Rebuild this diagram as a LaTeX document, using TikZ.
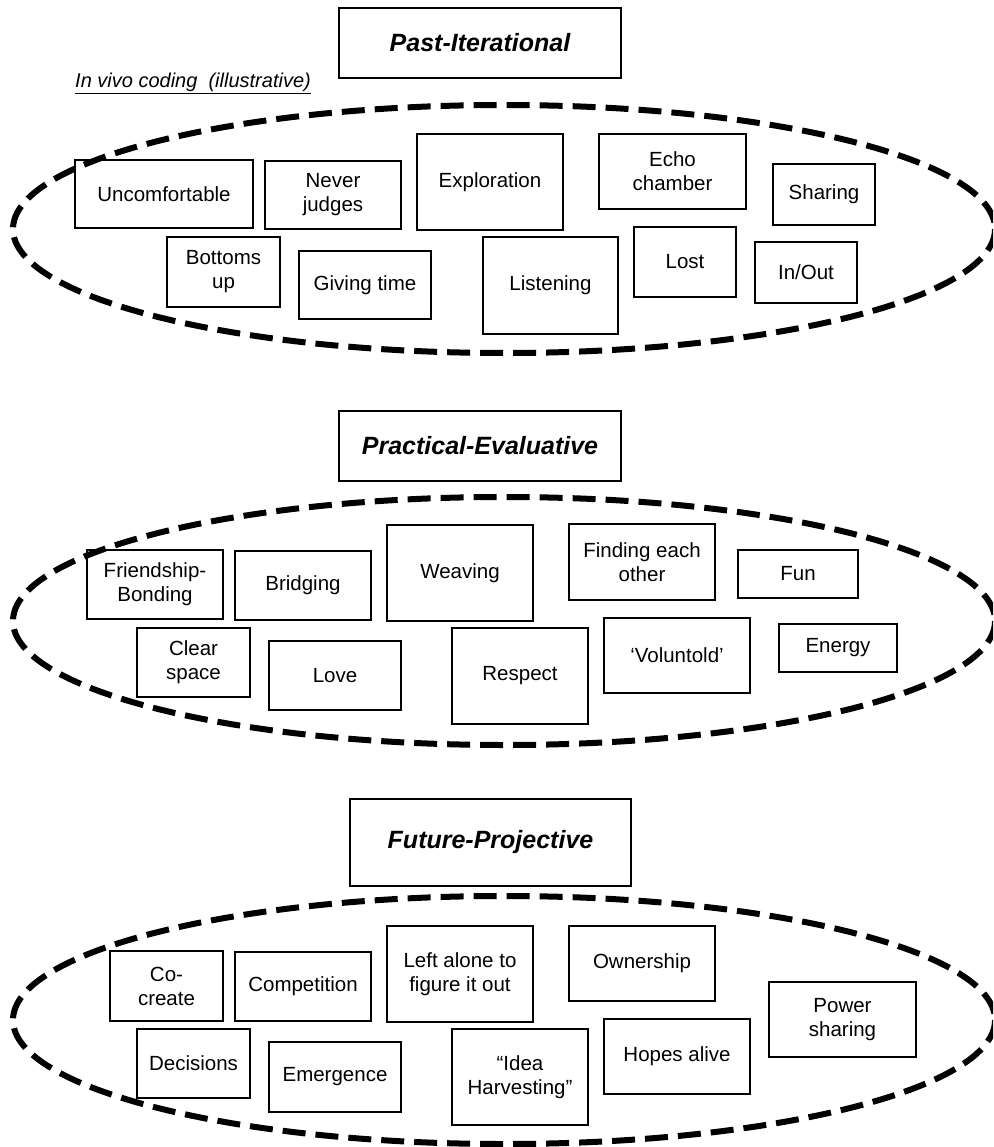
\documentclass[tikz,border=0pt]{standalone}
\usepackage{fontspec}
\setmainfont{Liberation Sans}
\begin{document}
\begin{tikzpicture}[x=1pt,y=-1pt,
  tagbox/.style 2 args={draw, line width=1.6pt, inner sep=0pt, align=center,
    minimum width=#1, minimum height=#2,
    font=\fontsize{20.5}{24}\selectfont},
  headbox/.style 2 args={draw, line width=1.8pt, inner sep=0pt,
    minimum width=#1, minimum height=#2,
    font=\fontsize{25}{28}\selectfont\bfseries\itshape},
  cluster/.style={draw, line width=6pt, dash pattern=on 23pt off 10pt}]
\useasboundingbox (0,0) rectangle (993,1147);
\clip (0,0) rectangle (993,1147);

% ---- Past-Iterational ----
\node[headbox={282}{70}] (pastT) at (480,43) {Past-Iterational};
\node[anchor=base west, inner sep=0pt, font=\fontsize{20}{22}\selectfont\itshape] (vivo) at (75,88)
  {\underline{In vivo coding\ \ (illustrative)}};

\node[tagbox={178}{68}] (unc)  at (164,194)     {Uncomfortable};
\node[tagbox={136}{68}] (nev)  at (333,195)     {Never\\judges};
\node[tagbox={146}{96}] (expl) at (490,182)     {Exploration};
\node[tagbox={147}{75}] (echo) at (672.5,171.5) {Echo\\chamber};
\node[tagbox={102}{61}] (shar) at (824,194.5)   {Sharing};
\node[tagbox={113}{70}] (bot)  at (223.5,272)   {Bottoms\\up};
\node[tagbox={132}{68}] (giv)  at (365,285)     {Giving time};
\node[tagbox={135}{97}] (lis)  at (550.5,285.5) {Listening};
\node[tagbox={102}{70}] (lost) at (685,262)     {Lost};
\node[tagbox={102}{61}] (io)   at (806,272.5)   {In/Out};
\draw[cluster] (504,229) ellipse [x radius=491, y radius=124];

% ---- Practical-Evaluative ----
\node[headbox={282}{70}] (pracT) at (480,446) {Practical-Evaluative};

\node[tagbox={136}{69}] (fri)  at (155,584.5)   {Friendship-\\Bonding};
\node[tagbox={136}{69}] (bri)  at (303,585.5)   {Bridging};
\node[tagbox={146}{96}] (wea)  at (460,573)     {Weaving};
\node[tagbox={146}{76}] (find) at (642,562)     {Finding each\\other};
\node[tagbox={120}{48}] (fun)  at (798,574)     {Fun};
\node[tagbox={113}{69}] (clr)  at (193.5,662.5) {Clear\\space};
\node[tagbox={132}{69}] (love) at (335,675.5)   {Love};
\node[tagbox={136}{96}] (resp) at (520,676)     {Respect};
\node[tagbox={146}{75}] (volu) at (677,655.5)   {‘Voluntold’};
\node[tagbox={118}{48}] (ener) at (838,648)     {Energy};
\draw[cluster] (504,621) ellipse [x radius=491, y radius=124];

% ---- Future-Projective ----
\node[headbox={281}{87}] (futT) at (490.5,842.5) {Future-Projective};

\node[tagbox={113}{70}] (co)   at (166.5,986)    {Co-\\create};
\node[tagbox={136}{69}] (comp) at (303,986.5)    {Competition};
\node[tagbox={146}{96}] (left) at (460,974)      {Left alone to\\figure it out};
\node[tagbox={146}{75}] (own)  at (642,963.5)    {Ownership};
\node[tagbox={147}{75}] (pow)  at (842.5,1019.5) {Power\\sharing};
\node[tagbox={113}{69}] (dec)  at (193.5,1063.5) {Decisions};
\node[tagbox={132}{70}] (eme)  at (335,1077)     {Emergence};
\node[tagbox={136}{96}] (idea) at (520,1077)     {“Idea\\Harvesting”};
\node[tagbox={146}{75}] (hope) at (677,1056.5)   {Hopes alive};
\draw[cluster] (504,1020) ellipse [x radius=491, y radius=124];
\end{tikzpicture}
\end{document}
